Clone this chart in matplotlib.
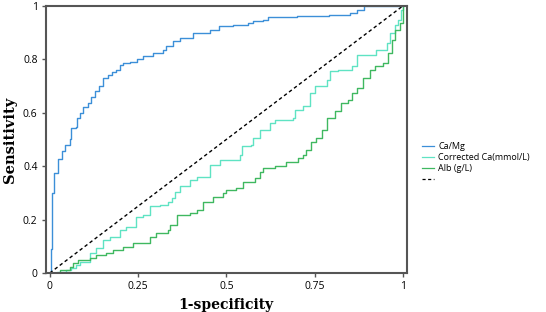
import matplotlib
matplotlib.use('Agg')
import matplotlib.pyplot as plt
import numpy as np

# ROC curves (1-specificity, sensitivity)
camg_x = [0, 0.003, 0.003, 0.006, 0.012, 0.024, 0.035, 0.042, 0.057, 0.061, 0.074, 0.076,
          0.085, 0.094, 0.109, 0.118, 0.127, 0.14, 0.15, 0.165, 0.175, 0.189, 0.198, 0.207,
          0.227, 0.246, 0.264, 0.293, 0.32, 0.33, 0.349, 0.368, 0.405, 0.453, 0.48, 0.52,
          0.56, 0.576, 0.604, 0.618, 0.70, 0.79, 0.85, 0.87, 0.89, 1.0]
camg_y = [0, 0, 0.09, 0.30, 0.375, 0.426, 0.455, 0.48, 0.50, 0.544, 0.548, 0.58,
          0.60, 0.62, 0.637, 0.66, 0.68, 0.70, 0.73, 0.742, 0.754, 0.761, 0.78, 0.787,
          0.79, 0.80, 0.811, 0.825, 0.836, 0.849, 0.867, 0.88, 0.90, 0.911, 0.924, 0.93,
          0.936, 0.942, 0.949, 0.96, 0.962, 0.967, 0.974, 0.986, 1.0, 1.0]

corr_x = [0, 0.02, 0.045, 0.06, 0.075, 0.085, 0.113, 0.132, 0.15, 0.17, 0.198, 0.217,
          0.245, 0.264, 0.283, 0.312, 0.334, 0.345, 0.354, 0.368, 0.397, 0.416, 0.453,
          0.482, 0.538, 0.543, 0.571, 0.576, 0.595, 0.623, 0.637, 0.689, 0.694, 0.717,
          0.737, 0.751, 0.784, 0.793, 0.816, 0.855, 0.869, 0.925, 0.954, 0.963, 0.977,
          0.987, 0.996, 1.0]
corr_y = [0, 0.005, 0.012, 0.02, 0.03, 0.042, 0.075, 0.093, 0.124, 0.136, 0.161, 0.174,
          0.211, 0.217, 0.249, 0.255, 0.267, 0.28, 0.305, 0.324, 0.349, 0.361, 0.405,
          0.424, 0.442, 0.474, 0.48, 0.506, 0.536, 0.562, 0.574, 0.58, 0.611, 0.624,
          0.674, 0.699, 0.724, 0.755, 0.761, 0.774, 0.817, 0.836, 0.861, 0.899, 0.93,
          0.949, 0.986, 1.0]

alb_x = [0, 0.028, 0.057, 0.066, 0.08, 0.113, 0.132, 0.16, 0.18, 0.208, 0.236, 0.283,
         0.302, 0.335, 0.34, 0.359, 0.397, 0.416, 0.434, 0.462, 0.49, 0.5, 0.528, 0.548,
         0.581, 0.595, 0.604, 0.637, 0.67, 0.689, 0.703, 0.717, 0.727, 0.741, 0.755,
         0.77, 0.784, 0.807, 0.826, 0.845, 0.855, 0.869, 0.888, 0.907, 0.92, 0.944,
         0.958, 0.968, 0.977, 0.992, 0.999, 1.0]
alb_y = [0, 0.011, 0.024, 0.036, 0.049, 0.056, 0.067, 0.075, 0.086, 0.099, 0.111, 0.136,
         0.149, 0.161, 0.18, 0.217, 0.225, 0.236, 0.267, 0.286, 0.299, 0.311, 0.318, 0.342,
         0.355, 0.38, 0.393, 0.399, 0.417, 0.417, 0.43, 0.442, 0.461, 0.492, 0.505,
         0.536, 0.58, 0.605, 0.636, 0.649, 0.674, 0.692, 0.73, 0.761, 0.774, 0.786,
         0.824, 0.874, 0.911, 0.936, 0.974, 1.0]

labels = ['Ca/Mg', 'Corrected Ca(mmol/L)', 'Alb (g/L)', ' ']
colors = ['#3c8fd8', '#5fe3c3', '#3fb860']

fig = plt.figure(figsize=(5.46, 3.12), dpi=100)
ax = fig.add_axes([0.084, 0.125, 0.661, 0.856])

ax.step(camg_x, camg_y, where='post', color=colors[0], lw=1.0, label=labels[0])
ax.step(corr_x, corr_y, where='post', color=colors[1], lw=1.0, label=labels[1])
ax.step(alb_x, alb_y, where='post', color=colors[2], lw=1.0, label=labels[2])
ax.plot([0, 1], [0, 1], color='black', linestyle='--', lw=1, dashes=(2.5, 2), label=labels[3])

ax.set_xlim(-0.011, 1.011)
ax.set_ylim(0, 1)
ax.set_xticks([0, 0.25, 0.5, 0.75, 1])
ax.set_xticklabels(['0', '0.25', '0.5', '0.75', '1'])
ax.set_yticks([0, 0.2, 0.4, 0.6, 0.8, 1])
ax.set_yticklabels(['0', '0.2', '0.4', '0.6', '0.8', '1'])
for s in ax.spines.values():
    s.set_color('#555555')
    s.set_linewidth(1.5)
ax.tick_params(axis='both', labelsize=7.5, length=3, width=1, color='#555555', pad=3)
for t in ax.get_xticklabels() + ax.get_yticklabels():
    t.set_fontfamily('Open Sans')

ax.set_xlabel('1-specificity', fontsize=10, fontweight='bold', family='DejaVu Serif', labelpad=4)
ax.set_ylabel('Sensitivity', fontsize=10.5, fontweight='bold', family='DejaVu Serif', labelpad=4)

leg = ax.legend(loc='upper left', bbox_to_anchor=(1.042, 0.49), frameon=False,
                prop={'family': 'Open Sans', 'size': 6.5}, handlelength=1.3,
                labelspacing=0.22, handletextpad=0.5, borderpad=0, borderaxespad=0)
for h in leg.get_lines():
    h.set_linewidth(0.9)

fig.savefig('out.png', dpi=100)
